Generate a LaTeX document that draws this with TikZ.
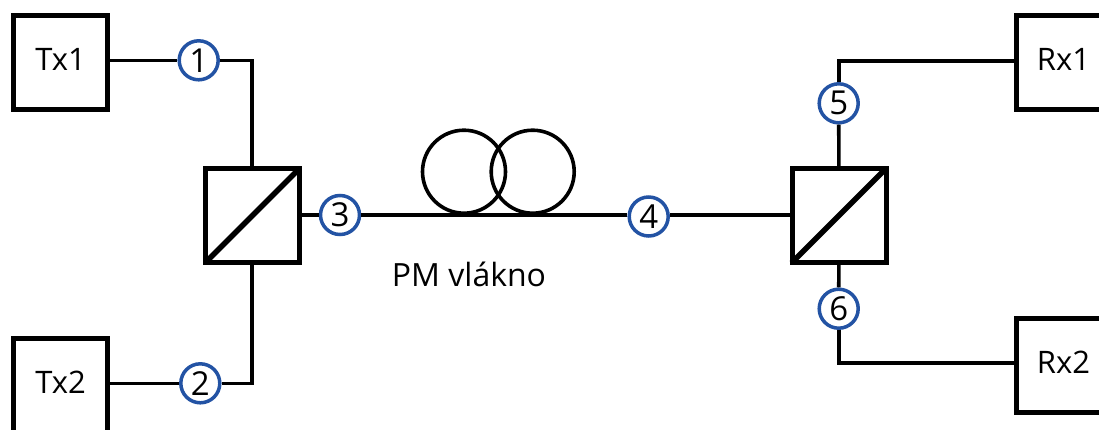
\documentclass[tikz,border=0pt]{standalone}
\usepackage{fontspec}
\setmainfont{Open Sans}
\definecolor{portblue}{HTML}{2353A4}
\tikzset{
	unitbox/.style = {draw, line width = 5pt, minimum size = 94pt, inner sep = 0pt, font = \fontsize{31}{31}\selectfont, text height = 25pt, text depth = 10pt},
	splitbox/.style = {draw, line width = 5pt, minimum size = 94pt, inner sep = 0pt},
	splitline/.style = {line width = 5.5pt, shorten < = 3pt, shorten > = 3pt},
	portdot/.style = {draw = portblue, fill = white, circle, line width = 3.5pt, minimum size = 39pt, inner sep = 0pt, font = \fontsize{33}{33}\selectfont},
	coilring/.style = {draw, circle, line width = 3.6pt, minimum size = 83pt, inner sep = 0pt},
	fibre/.style = {line width = 3.6pt}
}
\begin{document}
\begin{tikzpicture}[x = 1pt, y = -1pt]
		\useasboundingbox (0, 0) rectangle (1099, 429);
		\foreach \name/\x/\y/\txt in {txa/60.5/62.5/Tx1, txb/60.5/385.5/Tx2, rxa/1063.5/62.5/Rx1, rxb/1063.5/365.5/Rx2}
			\node[unitbox] (\name) at (\x, \y) {\txt};
		\node[splitbox] (spa) at (252.5, 215.5) {};
		\node[splitbox] (spb) at (839, 215.5) {};
		\draw[splitline] (spa.south west) -- (spa.north east);
		\draw[splitline] (spb.south west) -- (spb.north east);
		\foreach \name/\x/\y/\txt in {pa/198.7/60.3/1, pb/200.3/383.3/2, pc/340/215/3, pd/648.7/216.5/4, pe/838.7/103.3/5, pf/838.7/308.7/6}
			\node[portdot] (\name) at (\x, \y) {\txt};
		\node[coilring] (coila) at (464, 171.7) {};
		\node[coilring] (coilb) at (532.7, 171.7) {};
		\node[font = \fontsize{32}{32}\selectfont] (fibrename) at (469, 274) {PM vlákno};
		\draw[fibre] (txa.east |- pa) -- (pa);
		\draw[fibre] (pa) -| ([xshift = -0.8pt]spa.north);
		\draw[fibre] (txb.east |- pb) -- (pb);
		\draw[fibre] (pb) -| ([xshift = -0.8pt]spa.south);
		\draw[fibre] (spa.east |- pc) -- (pc);
		\draw[fibre] (pc) -- (pc -| pd.west);
		\draw[fibre] (pd.east |- pc) -- (pc -| spb.west);
		\draw[fibre] (spb) -- (pe);
		\draw[fibre] (pe) |- ([yshift = 1.5pt]rxa.west);
		\draw[fibre] (spb) -- (pf);
		\draw[fibre] (pf) |- ([yshift = 2.5pt]rxb.west);
	\end{tikzpicture}
\end{document}
